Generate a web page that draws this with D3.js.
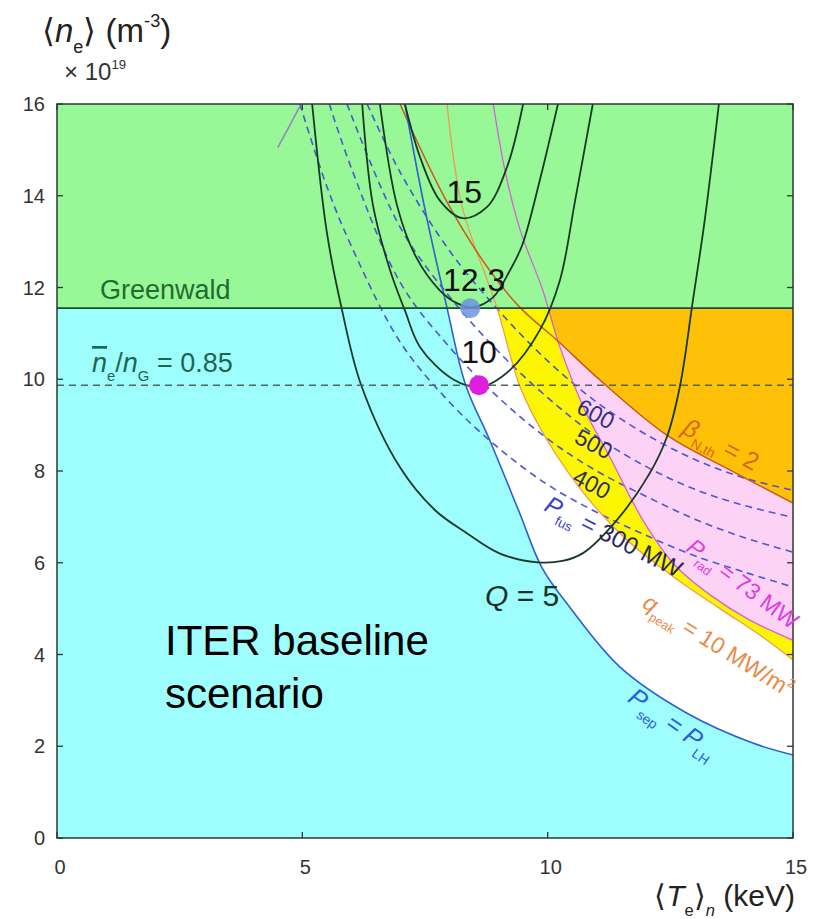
<!DOCTYPE html>
<html><head><meta charset="utf-8">
<script src="https://cdn.jsdelivr.net/npm/d3@7"></script>
<style>body{margin:0;background:#fff} svg{display:block} text{font-family:"Liberation Sans",Arial,sans-serif}</style>
</head><body><svg id="c" width="814" height="919"></svg>
<script>
// ---- data ----
const xTicks = [0, 5, 10, 15];
const yTicks = [0, 2, 4, 6, 8, 10, 12, 14, 16];
const greenwald = 11.55;          // Greenwald density (1e19 m^-3)
const densityLimit = 9.87;        // n/nG = 0.85
// boundary curves [T keV, n 1e19]
const pSepLH = [[7.09,16],[7.5,13.7],[7.95,11.55],[8.33,9.87],[8.82,8.67],[9.43,7.08],[9.88,5.9],[10.45,5.03],[11.47,3.73],[12.84,2.72],[14.18,2.07],[15,1.81]];
const qDiv10 = [[7.95,16],[8.25,13.79],[8.97,11.55],[9.44,9.83],[9.99,8.67],[10.8,7.43],[11.62,6.49],[12.49,5.75],[13.51,5.0],[14.33,4.42],[15,3.88]];
const pRad73 = [[8.89,16],[9.13,14.55],[9.44,13.25],[9.9,11.94],[10.25,10.7],[10.76,9.32],[11.27,8.3],[11.94,6.93],[12.59,5.95],[13.31,5.3],[14.12,4.75],[15,4.31]];
const betaN2 = [[6.99,16],[7.95,13.86],[8.82,12.37],[9.45,11.55],[10.19,10.85],[11.07,9.98],[12.43,8.78],[13.72,8.02],[15,7.3]];
// Q contours
const q5 = [[5.2,16],[5.5,13.2],[5.8,11.55],[6.2,9.87],[6.99,8.08],[7.7,7.15],[8.36,6.64],[9.03,6.2],[9.8,6.01],[10.3,6.04],[10.72,6.21],[11.41,6.93],[12.08,7.95],[12.43,8.74],[12.7,9.87],[12.96,11.72],[13.2,13.46],[13.49,16]];
const q10 = [[6.22,16],[6.44,13.79],[6.79,12.37],[7.09,11.5],[7.4,10.7],[8.07,10.0],[8.62,9.83],[9.23,10.2],[9.84,11.07],[10.25,12.16],[10.56,13.9],[10.92,16]];
const q123 = [[6.58,16],[6.93,13.79],[7.3,12.7],[7.8,11.94],[8.15,11.66],[8.48,11.57],[8.89,11.79],[9.23,12.37],[9.48,12.92],[9.84,14.34],[10.21,16]];
const q15 = [[7.09,16],[7.4,14.84],[7.8,13.9],[8.27,13.51],[8.76,13.75],[9.17,14.62],[9.5,16]];
// fusion power contours (MW)
const pFus300 = [[4.95,16],[5.5,14.2],[6,12.9],[7,10.8],[8,9.5],[9,8.5],[10,7.7],[11,7.1],[12,6.6],[13,6.15],[14,5.8],[15,5.47]];
const pFus400 = [[5.55,16],[6,14.6],[7,12.1],[8,10.7],[9,9.6],[10,8.7],[11,8.0],[12,7.45],[13,6.95],[14,6.55],[15,6.23]];
const pFus500 = [[5.91,16],[7,13.3],[8,11.8],[9,10.6],[10,9.6],[11,8.75],[12,8.1],[13,7.6],[14,7.25],[15,6.99]];
const pFus600 = [[6.32,16],[7,14.5],[8,12.8],[9,11.5],[10,10.4],[11,9.5],[12,8.8],[13,8.25],[14,7.85],[15,7.58]];
const otherLine = [[4.95,15.95],[4.5,15.05]];
// operating points
const opT = [8.42, 8.6];
const opN = [11.55, 9.87];
const opColor = ["#6f93e0", "#e01ee0"];

// ---- drawing ----
const svg = d3.select("#c");
const x = d3.scaleLinear().domain([0,15]).range([57,793]);
const y = d3.scaleLinear().domain([0,16]).range([838,104]);
const line = d3.line().x(d=>x(d[0])).y(d=>y(d[1])).curve(d3.curveCatmullRom);
function region(pts){
  const a = pts[0], b = pts[pts.length-1];
  return line(pts) + `L${x(15)+6},${y(b[1])}L${x(15)+6},${y(16)-6}L${x(a[0])},${y(16)-6}Z`;
}
const defs = svg.append("defs");
defs.append("clipPath").attr("id","plot").append("rect")
  .attr("x",x(0)).attr("y",y(16)).attr("width",x(15)-x(0)).attr("height",y(0)-y(16));
defs.append("clipPath").attr("id","below").append("rect")
  .attr("x",x(0)).attr("y",y(greenwald)).attr("width",x(15)-x(0)).attr("height",y(0)-y(greenwald));
defs.append("clipPath").attr("id","mag").append("path").attr("d",region(pRad73));

const fills = svg.append("g").attr("clip-path","url(#below)");
fills.append("rect").attr("x",x(0)).attr("y",y(greenwald)).attr("width",x(15)-x(0)).attr("height",y(0)-y(greenwald)).attr("fill","#9efdfd");
fills.append("path").attr("d",region(pSepLH)).attr("fill","#ffffff");
fills.append("path").attr("d",region(qDiv10)).attr("fill","#fcf700");
fills.append("path").attr("d",region(pRad73)).attr("fill","#fdd3f5");
fills.append("g").attr("clip-path","url(#mag)").append("path").attr("d",region(betaN2)).attr("fill","#ffc107");
svg.append("rect").attr("x",x(0)).attr("y",y(16)).attr("width",x(15)-x(0)).attr("height",y(greenwald)-y(16)).attr("fill","#98f898");

const lines = svg.append("g").attr("clip-path","url(#plot)").attr("fill","none");
[pFus300,pFus400,pFus500,pFus600].forEach(p=>{
  lines.append("path").attr("d",line(p)).attr("stroke","#4b57d2").attr("stroke-width",1.6).attr("stroke-dasharray","7,5");
});
lines.append("path").attr("d",line(otherLine)).attr("stroke","#9a86b8").attr("stroke-width",1.6);
lines.append("path").attr("d",line(qDiv10)).attr("stroke","#f09a50").attr("stroke-width",1.3);
lines.append("path").attr("d",line(pRad73)).attr("stroke","#d760d7").attr("stroke-width",1.3);
lines.append("path").attr("d",line(betaN2)).attr("stroke","#c95a1c").attr("stroke-width",1.5);
lines.append("path").attr("d",line(pSepLH)).attr("stroke","#2f5fd0").attr("stroke-width",1.6);
[q5,q10,q123,q15].forEach(p=>{
  lines.append("path").attr("d",line(p)).attr("stroke","#173a28").attr("stroke-width",1.8);
});
lines.append("line").attr("x1",x(0)).attr("x2",x(15)).attr("y1",y(densityLimit)).attr("y2",y(densityLimit))
  .attr("stroke","#4f6660").attr("stroke-width",1.5).attr("stroke-dasharray","7,5");
lines.append("line").attr("x1",x(0)).attr("x2",x(15)).attr("y1",y(greenwald)).attr("y2",y(greenwald))
  .attr("stroke","#1f4a2c").attr("stroke-width",1.7);

opT.forEach((t,i)=>{
  svg.append("circle").attr("cx",x(t)).attr("cy",y(opN[i])).attr("r",10).attr("fill",opColor[i]).attr("opacity",i===0?0.85:1);
});

// frame + ticks
svg.append("rect").attr("x",x(0)).attr("y",y(16)).attr("width",x(15)-x(0)).attr("height",y(0)-y(16))
  .attr("fill","none").attr("stroke","#2c3a32").attr("stroke-width",1.5);
const tk = svg.append("g").attr("stroke","#2c3a32").attr("stroke-width",1.3);
yTicks.forEach(v=>{
  tk.append("line").attr("x1",x(0)).attr("x2",x(0)+6).attr("y1",y(v)).attr("y2",y(v));
  tk.append("line").attr("x1",x(15)).attr("x2",x(15)-6).attr("y1",y(v)).attr("y2",y(v));
});
xTicks.forEach(v=>{
  tk.append("line").attr("x1",x(v)).attr("x2",x(v)).attr("y1",y(0)).attr("y2",y(0)-6);
  tk.append("line").attr("x1",x(v)).attr("x2",x(v)).attr("y1",y(16)).attr("y2",y(16)+6);
});
yTicks.forEach(v=>{
  svg.append("text").attr("x",x(0)-12).attr("y",y(v)).attr("dy","0.36em").attr("text-anchor","end")
    .attr("font-size",20).attr("fill","#333").text(v);
});
xTicks.forEach(v=>{
  svg.append("text").attr("x",x(v)+3).attr("y",y(0)+36).attr("text-anchor","middle")
    .attr("font-size",20).attr("fill","#333").text(v);
});

// rich text helper
function rich(parent, parts, opt){
  const t = parent.append("text").attr("font-size",opt.size).attr("fill",opt.color)
    .attr("text-anchor",opt.anchor||"start");
  if(opt.rot!==undefined) t.attr("transform",`translate(${opt.x},${opt.y}) rotate(${opt.rot})`);
  else t.attr("x",opt.x).attr("y",opt.y);
  let shift = 0;
  parts.forEach(p=>{
    const s = t.append("tspan").text(p.t);
    let target = 0;
    if(p.sub){ target = opt.size*0.32; s.attr("font-size",opt.size*0.55); }
    if(p.sup){ target = -opt.size*0.45; s.attr("font-size",opt.size*0.55); }
    if(target!==shift){ s.attr("dy",target-shift); shift=target; }
    if(p.i) s.attr("font-style","italic");
    if(p.fill) s.attr("fill",p.fill);
    if(p.over) s.attr("text-decoration","overline");
  });
  return t;
}

// axis titles
rich(svg,[{t:"⟨"},{t:"n",i:true},{t:"e",sub:true},{t:"⟩ (m"},{t:"-3",sup:true},{t:")"}],{x:42,y:42,size:33,color:"#222"});
rich(svg,[{t:"× 10"},{t:"19",sup:true}],{x:64,y:80,size:24,color:"#333"});
rich(svg,[{t:"⟨"},{t:"T",i:true},{t:"e",sub:true},{t:"⟩"},{t:"n",sub:true,i:true},{t:" (keV)"}],{x:795,y:906,size:30,color:"#222",anchor:"end"});

// annotations
rich(svg,[{t:"Greenwald"}],{x:100,y:299,size:27,color:"#226b30"});
rich(svg,[{t:"n",i:true,over:true},{t:"e",sub:true},{t:"/"},{t:"n",i:true},{t:"G",sub:true},{t:" = 0.85"}],{x:92,y:372,size:27,color:"#1f6650"});
rich(svg,[{t:"15"}],{x:x(8.3),y:y(13.85),size:32,color:"#111",anchor:"middle"});
rich(svg,[{t:"12.3"}],{x:x(8.5),y:y(11.93),size:32,color:"#111",anchor:"middle"});
rich(svg,[{t:"10"}],{x:x(8.6),y:y(10.35),size:32,color:"#111",anchor:"middle"});
rich(svg,[{t:"Q",i:true},{t:" = 5"}],{x:x(9.48),y:y(5.05),size:30,color:"#1a3328",anchor:"middle"});
rich(svg,[{t:"ITER baseline"}],{x:165,y:655,size:42,color:"#000"});
rich(svg,[{t:"scenario"}],{x:165,y:708,size:42,color:"#000"});
rich(svg,[{t:"600"}],{x:592,y:421,rot:28,size:23,color:"#2e2e86",anchor:"middle"});
rich(svg,[{t:"500"}],{x:590,y:451,rot:28,size:23,color:"#2e2e66",anchor:"middle"});
rich(svg,[{t:"400"}],{x:588,y:491,rot:28,size:23,color:"#2e2e66",anchor:"middle"});
rich(svg,[{t:"P",i:true,fill:"#3a3ec8"},{t:"fus",sub:true,fill:"#3a3ec8"},{t:" = ",fill:"#3a3ec8"},{t:"300 MW"}],{x:610,y:544,rot:27,size:24,color:"#27275e",anchor:"middle"});
rich(svg,[{t:"β",i:true},{t:"N,th",sub:true},{t:" = 2"}],{x:717,y:452,rot:28,size:25,color:"#d8680e",anchor:"middle"});
rich(svg,[{t:"P",i:true},{t:"rad",sub:true},{t:" = 73 MW"}],{x:738,y:590,rot:37,size:23,color:"#e03ce0",anchor:"middle"});
rich(svg,[{t:"q",i:true},{t:"peak",sub:true},{t:" = 10 MW/m"},{t:"2",sup:true}],{x:714,y:652,rot:32,size:23,color:"#ea8a48",anchor:"middle"});
rich(svg,[{t:"P",i:true},{t:"sep",sub:true},{t:" = "},{t:"P",i:true},{t:"LH",sub:true}],{x:668,y:730,rot:35,size:25,color:"#2b5fd8",anchor:"middle"});
</script></body></html>
